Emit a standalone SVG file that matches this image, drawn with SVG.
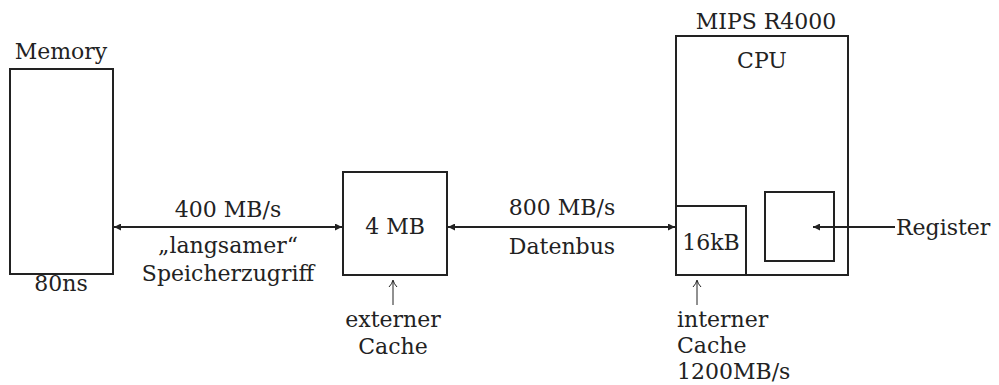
<svg xmlns="http://www.w3.org/2000/svg" width="999" height="385" viewBox="0 0 999 385">
<style>
.t{font-size:22px;fill:#222}
.c{text-anchor:middle}
.box{fill:none;stroke:#222;stroke-width:2}
.ln{fill:none;stroke:#222;stroke-width:1.8}
.up{fill:none;stroke:#222;stroke-width:1}
</style>
<defs>
<marker id="ah" viewBox="0 0 10 10" refX="10" refY="5" markerWidth="10" markerHeight="7" markerUnits="userSpaceOnUse" orient="auto-start-reverse">
<path d="M0,0 L10,5 L0,10 Z" fill="#222"/>
</marker>
</defs>
<rect width="999" height="385" fill="#fff"/>
<g font-family="DejaVu Serif, serif" class="t">
<g id="memory">
<rect class="box" x="10" y="69" width="103" height="205"/>
<text class="c" x="61" y="59">Memory</text>
<text class="c" x="61" y="291">80ns</text>
</g>
<g id="extcache">
<rect class="box" x="343" y="172" width="104" height="103"/>
<text class="c" x="395" y="234">4 MB</text>
<text class="c" x="393" y="327">externer</text>
<text class="c" x="393" y="354">Cache</text>
</g>
<g id="cpu">
<rect class="box" x="676" y="36" width="172" height="239"/>
<text class="c" x="766" y="29">MIPS R4000</text>
<text class="c" x="762" y="68">CPU</text>
</g>
<g id="intcache">
<rect class="box" x="676" y="206" width="70" height="69"/>
<text class="c" x="711" y="250">16kB</text>
<text x="677" y="327">interner</text>
<text x="677" y="353">Cache</text>
<text x="677" y="379">1200MB/s</text>
</g>
<g id="register">
<rect class="box" x="765" y="192" width="69" height="69"/>
<text x="896" y="235">Register</text>
</g>
<g id="connectors">
<line class="ln" x1="114" y1="227" x2="342" y2="227" marker-start="url(#ah)" marker-end="url(#ah)"/>
<text class="c" x="228" y="217">400 MB/s</text>
<text class="c" x="228" y="253">„langsamer“</text>
<text class="c" x="228" y="281">Speicherzugriff</text>
<line class="ln" x1="448" y1="227" x2="675" y2="227" marker-start="url(#ah)" marker-end="url(#ah)"/>
<text class="c" x="562" y="215">800 MB/s</text>
<text class="c" x="562" y="254">Datenbus</text>
<line class="ln" x1="895" y1="227" x2="813" y2="227" marker-end="url(#ah)"/>
<path class="up" d="M393,305 V281 M389,287 Q392,284 393,280 Q394,284 397,287"/>
<path class="up" d="M697,305 V281 M693,287 Q696,284 697,280 Q698,284 701,287"/>
</g>
</g>
</svg>
